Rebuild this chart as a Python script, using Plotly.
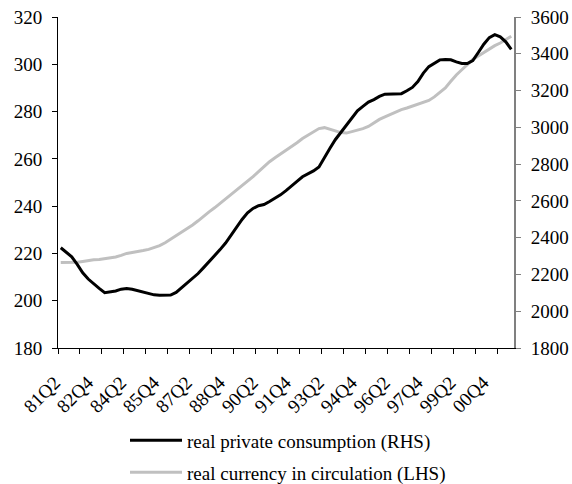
import plotly.graph_objects as go

# Quarters 81Q2 .. 01Q4
quarters = []
for yr in range(1981, 2002):
    for q in range(1, 5):
        if (yr == 1981 and q < 2):
            continue
        quarters.append(f"{yr % 100:02d}Q{q}")

tick_labels = ["81Q2", "82Q4", "84Q2", "85Q4", "87Q2", "88Q4", "90Q2",
               "91Q4", "93Q2", "94Q4", "96Q2", "97Q4", "99Q2", "00Q4"]

# real private consumption (RHS)
consumption = [2345, 2321, 2296, 2255, 2209, 2175, 2148, 2124, 2101, 2105,
               2110, 2120, 2124, 2119, 2111, 2102, 2094, 2089, 2087, 2087,
               2088, 2102, 2127, 2154, 2179, 2205, 2237, 2269, 2300, 2335,
               2371, 2415, 2460, 2499, 2535, 2559, 2574, 2580, 2597, 2614,
               2633, 2656, 2679, 2706, 2731, 2746, 2763, 2784, 2838, 2886,
               2934, 2973, 3011, 3051, 3090, 3114, 3137, 3151, 3168, 3180,
               3181, 3181, 3183, 3199, 3217, 3249, 3295, 3330, 3351, 3367,
               3369, 3367, 3356, 3347, 3347, 3363, 3407, 3452, 3488, 3504,
               3492, 3465, 3424]

# real currency in circulation (LHS)
currency = [216.2, 216.2, 216.3, 216.3, 216.6, 217.0, 217.3, 217.4, 217.7, 218.0,
            218.5, 219.2, 220.0, 220.4, 220.7, 221.2, 221.7, 222.4, 223.3, 224.5,
            226.0, 227.3, 228.8, 230.5, 232.0, 233.8, 235.9, 237.6, 239.3, 241.2,
            243.0, 244.8, 246.6, 248.4, 250.4, 252.5, 254.6, 256.9, 258.8, 260.5,
            262.0, 263.6, 265.2, 266.8, 268.6, 270.0, 271.4, 272.8, 273.2, 272.6,
            271.8, 271.1, 270.9, 271.5, 272.1, 272.8, 273.7, 275.2, 276.7, 277.8,
            278.9, 279.9, 280.8, 281.5, 282.3, 283.0, 283.8, 284.7, 286.2, 288.0,
            290.0, 292.8, 295.5, 297.7, 299.8, 302.0, 303.5, 305.0, 306.7, 307.9,
            309.0, 310.5, 311.9]

n = len(quarters)
xi = list(range(n))
label_idx = [quarters.index(t) for t in tick_labels]

FONT = "Liberation Serif, Times New Roman, serif"

fig = go.Figure()
fig.add_trace(go.Scatter(
    x=xi, y=currency, mode="lines", name="real currency in circulation (LHS)",
    line=dict(color="#c0c0c0", width=3), yaxis="y", legend="legend2"))
fig.add_trace(go.Scatter(
    x=xi, y=consumption, mode="lines", name="real private consumption (RHS)",
    line=dict(color="#000000", width=3), yaxis="y2", legend="legend"))

fig.update_layout(
    width=572, height=484,
    margin=dict(l=58, r=58, t=17, b=136, autoexpand=False),
    paper_bgcolor="white", plot_bgcolor="white",
    font=dict(family=FONT, size=19, color="black"),
    showlegend=True,
    xaxis=dict(
        range=[-0.5, n - 0.5], automargin=False,
        tickmode="array", tickvals=label_idx, ticktext=tick_labels,
        tickangle=-45, ticks="", showgrid=False, zeroline=False,
        showline=True, linecolor="black", linewidth=1,
        tickfont=dict(family=FONT, size=19), ticklabelstandoff=15,
        ticklabelshift=-6,
        minor=dict(tick0=-0.5, dtick=4, ticks="outside", ticklen=5,
                   tickcolor="black", showgrid=False),
    ),
    yaxis=dict(
        range=[180, 320], dtick=20, ticks="outside", ticklen=5,
        tickcolor="black", showline=True, linecolor="black", linewidth=1,
        showgrid=False, zeroline=False, ticklabelstandoff=6, automargin=False,
    ),
    yaxis2=dict(
        range=[1800, 3600], dtick=200, overlaying="y", side="right",
        ticks="outside", ticklen=5, tickcolor="#808080",
        showline=True, linecolor="#808080", linewidth=2, automargin=False,
        showgrid=False, zeroline=False, ticklabelstandoff=6,
    ),
    legend=dict(x=(125 - 58) / 456, xanchor="left", y=(347.7 - 440) / 331,
                yanchor="middle", bgcolor="rgba(0,0,0,0)", itemwidth=52,
                font=dict(family=FONT, size=19)),
    legend2=dict(x=(125 - 58) / 456, xanchor="left", y=(347.7 - 472) / 331,
                 yanchor="middle", bgcolor="rgba(0,0,0,0)", itemwidth=52,
                 font=dict(family=FONT, size=19)),
)

fig.write_html(
    "out.html",
    config={"displayModeBar": False},
    post_script="document.body.style.margin='0';document.body.style.overflow='hidden';",
)
